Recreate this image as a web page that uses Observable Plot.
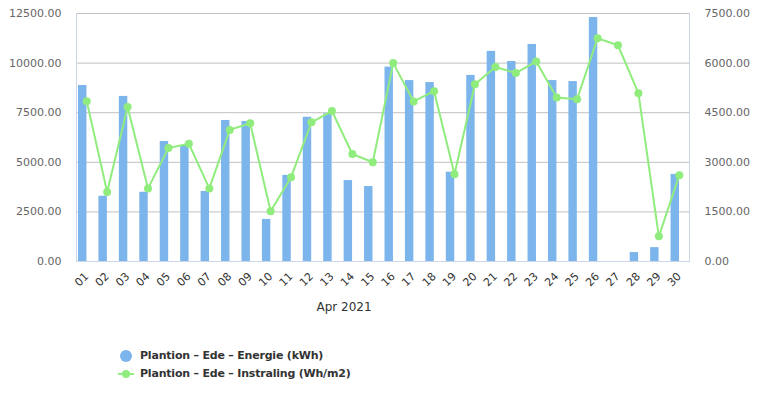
<!DOCTYPE html>
<html><head><meta charset="utf-8">
<script src="https://cdn.jsdelivr.net/npm/d3@7"></script>
<script src="https://cdn.jsdelivr.net/npm/@observablehq/plot@0.6"></script>
<style>
body{margin:0;background:#fff;font-family:"DejaVu Sans",sans-serif;}
#wrap{position:relative;width:769px;height:397px;overflow:hidden;}
#chart{position:absolute;left:0;top:0;}
.leg{position:absolute;left:118px;font-weight:bold;font-size:11px;color:#333;display:flex;align-items:center;white-space:nowrap;letter-spacing:-0.2px;}
.sym{position:relative;width:16px;height:12px;margin-right:6px;}
</style>
</head><body><div id="wrap"><div id="chart"></div><div id="legend"></div></div>
<script>
const days = ["01","02","03","04","05","06","07","08","09","10","11","12","13","14","15","16","17","18","19","20","21","22","23","24","25","26","27","28","29","30"];
const energie = [8870,3290,8320,3490,6050,5850,3530,7110,7060,2120,4340,7270,7440,4080,3780,9800,9120,9020,4500,9380,10590,10080,10940,9120,9070,12300,0,450,700,4390];
const instraling = [4850,2100,4670,2210,3430,3560,2210,3980,4180,1520,2550,4210,4550,3250,3000,6000,4840,5150,2640,5360,5880,5700,6050,4960,4910,6750,6540,5090,760,2610];
const leftTicks = [0,2500,5000,7500,10000,12500];
const rightTicks = [0,1500,3000,4500,6000,7500];
const xTitle = "Apr 2021";
const seriesNames = ["Plantion – Ede – Energie (kWh)","Plantion – Ede – Instraling (Wh/m2)"];
const colors = ["#7cb5ec","#90ed7d"];

const LEFT_MAX = 12500, RIGHT_MAX = 7500, k = LEFT_MAX / RIGHT_MAX;
const data = days.map((d, i) => ({day: d, e: energie[i], s: instraling[i]}));

const chart = Plot.plot({
  width: 769, height: 325,
  marginLeft: 76, marginRight: 80, marginTop: 13, marginBottom: 64,
  style: {fontFamily: "DejaVu Sans", fontSize: "11px", background: "#fff"},
  x: {type: "band", domain: days, padding: 0, round: false, label: null},
  y: {domain: [0, LEFT_MAX], label: null},
  marks: [
    Plot.gridY(leftTicks, {stroke: "#c0c0c0", strokeOpacity: 1}),
    Plot.barY(data, {x: "day", y: "e", fill: colors[0], insetLeft: 2, insetRight: 10}),
    Plot.line(data, {x: "day", y: d => d.s * k, stroke: colors[1], strokeWidth: 2}),
    Plot.dot(data, {x: "day", y: d => d.s * k, r: 4, fill: colors[1]}),
    Plot.frame({anchor: "left", stroke: "#ccd6eb"}),
    Plot.frame({anchor: "right", stroke: "#ccd6eb"}),
    Plot.ruleY([0], {stroke: "#ccd6eb"}),
    Plot.axisY(leftTicks, {anchor: "left", tickSize: 0, tickPadding: 15, tickFormat: d => d.toFixed(2), fill: "#666", label: null}),
    Plot.axisY(rightTicks.map(t => t * k), {anchor: "right", tickSize: 0, tickPadding: 15, tickFormat: d => (d / k).toFixed(2), fill: "#666", label: null}),
    Plot.axisX({tickRotate: -45, tickSize: 0, tickPadding: 13, fill: "#333", label: null}),
    Plot.text([xTitle], {frameAnchor: "bottom", dy: 49, dx: -39, fill: "#333", fontSize: 12})
  ]
});
document.getElementById("chart").appendChild(chart);

const leg = document.getElementById("legend");
seriesNames.forEach((name, i) => {
  const row = document.createElement("div");
  row.className = "leg";
  row.style.top = (i === 0 ? 349 : 367) + "px";
  const sym = document.createElement("div");
  sym.className = "sym";
  if (i === 0) {
    sym.innerHTML = `<svg width="16" height="12"><circle cx="8" cy="6" r="6" fill="${colors[0]}"/></svg>`;
  } else {
    sym.innerHTML = `<svg width="16" height="12"><line x1="0" x2="16" y1="6" y2="6" stroke="${colors[1]}" stroke-width="2"/><circle cx="8" cy="6" r="4" fill="${colors[1]}"/></svg>`;
  }
  const t = document.createElement("span");
  t.textContent = name;
  row.appendChild(sym); row.appendChild(t);
  leg.appendChild(row);
});
</script>
</body></html>
